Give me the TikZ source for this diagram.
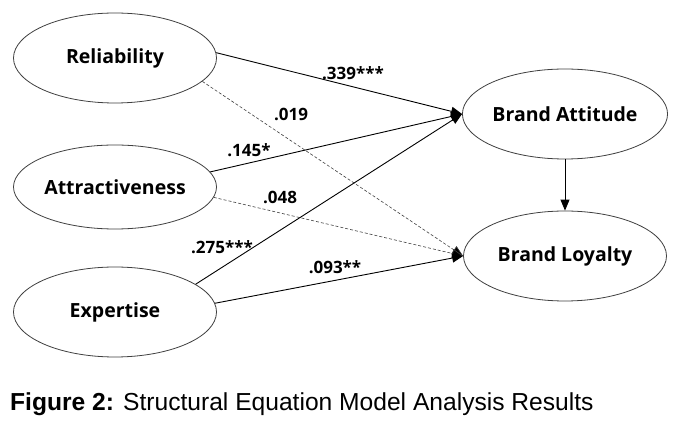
\documentclass[tikz,border=0pt]{standalone}
\usepackage{fontspec}
\setmainfont{Liberation Sans}
\newfontfamily\nodefont{Open Sans}
\usetikzlibrary{shapes.geometric,arrows.meta}
\begin{document}
\begin{tikzpicture}[x=1pt,y=1pt,
  var/.style={ellipse,draw=black!75,line width=0.8pt,fill=white,inner sep=0pt,
    minimum width=203pt,minimum height=90pt,font=\nodefont\bfseries\fontsize{19.5}{22}\selectfont},
  path/.style={draw=black,line width=0.9pt,-{Triangle[length=11pt,width=9pt]}},
  ns/.style={draw=black!75,line width=0.6pt,dash pattern=on 3pt off 2pt,-{Triangle[length=11pt,width=9pt,fill=black]}},
  coef/.style={font=\nodefont\bfseries\fontsize{17}{19}\selectfont,inner sep=0pt}]
\useasboundingbox (0,0) rectangle (683,-427);
\fill[white] (0,0) rectangle (683,-427);
\node[var] (rel) at (115,-58) {Reliability};
\node[var,minimum height=84pt] (att) at (115,-187) {Attractiveness};
\node[var] (exp) at (115,-312) {Expertise};
\node[var] (ba) at (565,-114) {Brand Attitude};
\node[var] (bl) at (565,-256) {Brand Loyalty};
\draw[path] (rel.3) -- (ba.west);
\draw[ns] (rel.-15) -- (bl.west);
\draw[path] (att.9) -- (ba.west);
\draw[ns] (att.-6) -- (bl.west);
\draw[path] (exp.19) -- (ba.west);
\draw[path] (exp.5) -- (bl.west);
\draw[path] (ba.south) -- (bl.north);
\node[coef] (c1) at (353,-73) {.339***};
\node[coef] (c2) at (291,-114) {.019};
\node[coef] (c3) at (249,-150) {.145*};
\node[coef] (c4) at (280,-197) {.048};
\node[coef] (c5) at (222,-247) {.275***};
\node[coef] (c6) at (335,-267) {.093**};
\node[anchor=west,inner sep=0pt,font=\fontsize{24.6}{28}\selectfont] (cap) at (10,-404) {\textbf{Figure 2:} Structural Equation Model Analysis Results};
\end{tikzpicture}
\end{document}
